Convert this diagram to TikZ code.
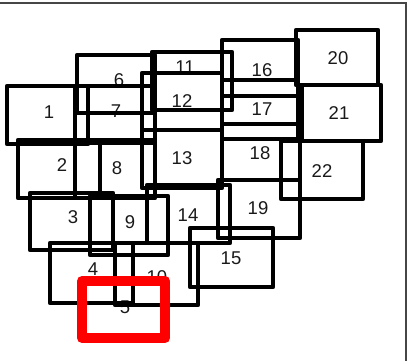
\documentclass[tikz,border=0pt]{standalone}
\usepackage{fontspec}
\setmainfont{Liberation Sans}
\usetikzlibrary{fit}
\definecolor{FrameGray}{RGB}{70,70,70}
\definecolor{MarkRed}{RGB}{255,0,0}

\begin{document}
\begin{tikzpicture}[
  x=1pt, y=-1pt,
  font=\fontsize{18.5}{20}\selectfont,
  num/.style={inner sep=0pt, text=black!90},
  cell/.style={
    rectangle, draw=black, line width=4.6pt, line join=round, inner sep=0pt
  },
  redbox/.style={
    rectangle, draw=MarkRed, line width=10pt, line join=round, inner sep=0pt
  }
]
\useasboundingbox (0,0) rectangle (409,360);
% frame: only its top and right sides fall inside the picture
\draw[FrameGray, line width=1.2pt] (-2,3) -- (406,3) -- (406,362);

% labels sit below the box outlines
\node[num] (n1) at (49,112) {1};
\node[num] (n2) at (62,165) {2};
\node[num] (n3) at (73,217) {3};
\node[num] (n4) at (93,269) {4};
\node[num] (n5) at (125,307) {5};
\node[num] (n6) at (119,80) {6};
\node[num] (n7) at (116,111) {7};
\node[num] (n8) at (117,168) {8};
\node[num] (n9) at (130,222) {9};
\node[num] (n10) at (157,277) {10};
\node[num] (n11) at (185,67) {11};
\node[num] (n12) at (182,101) {12};
\node[num] (n13) at (182,158) {13};
\node[num] (n14) at (188,215) {14};
\node[num] (n15) at (231,258) {15};
\node[num] (n16) at (262,70) {16};
\node[num] (n17) at (262,109) {17};
\node[num] (n18) at (260,153) {18};
\node[num] (n19) at (258,208) {19};
\node[num] (n20) at (338,58) {20};
\node[num] (n21) at (339,113) {21};
\node[num] (n22) at (322,171) {22};

% first column
\node[cell, fit={(7,86) (88,144)}] (box1) {};
\node[cell, fit={(18,140) (100,198)}] (box2) {};
\node[cell, fit={(30,193) (113,250)}] (box3) {};
\node[cell, fit={(50,243) (133,303)}] (box4) {};

% second column
\node[cell, fit={(77,55) (155,113)}] (box6) {};
\node[cell, fit={(75,86) (155,143)}] (box7) {};
\node[cell, fit={(75,140) (155,198)}] (box8) {};
\node[cell, fit={(90,196) (168,255)}] (box9) {};
\node[cell, fit={(115,243) (198,305)}] (box10) {};

% third column
\node[cell, fit={(152,52) (232,110)}] (box11) {};
\node[cell, fit={(142,73) (222,130)}] (box12) {};
\node[cell, fit={(142,130) (222,188)}] (box13) {};
\node[cell, fit={(147,185) (230,243)}] (box14) {};
\node[cell, fit={(190,228) (273,287)}] (box15) {};

% fourth column
\node[cell, fit={(222,40) (298,96)}] (box16) {};
\node[cell, fit={(222,80) (298,139)}] (box17) {};
\node[cell, fit={(222,124) (300,180)}] (box18) {};
\node[cell, fit={(218,180) (300,238)}] (box19) {};

% fifth column
\node[cell, fit={(296,30) (378,85)}] (box20) {};
\node[cell, fit={(302,85) (381,141)}] (box21) {};
\node[cell, fit={(281,141) (363,199)}] (box22) {};

% highlighted box
\node[redbox, fit={(82,281) (165,338)}] (box5) {};

\end{tikzpicture}
\end{document}
